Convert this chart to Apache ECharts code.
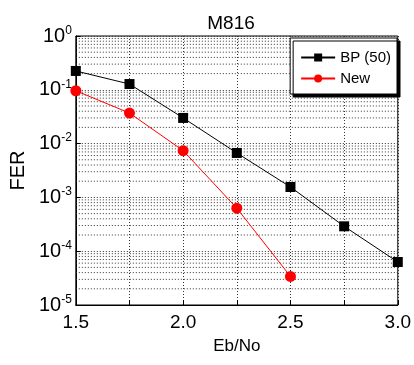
<!DOCTYPE html>
<html><head><meta charset="utf-8">
<script src="https://cdn.jsdelivr.net/npm/echarts@6/dist/echarts.min.js"></script>
<style>html,body{margin:0;padding:0;background:#fff}#c{width:414px;height:365px}</style>
</head><body><div id="c"></div>
<script>
const ebno = [1.5, 1.75, 2.0, 2.25, 2.5, 2.75, 3.0];
const bpFER = [0.224, 0.128, 0.030, 0.0067, 0.00156, 0.00029, 0.000063];
const newEbno = [1.5, 1.75, 2.0, 2.25, 2.5];
const newFER = [0.096, 0.037, 0.0074, 0.00063, 0.000034];
const decades = [-5, -4, -3, -2, -1];
const minorMult = [2, 3, 4, 5, 6, 7, 8, 9];
const xRange = [1.5, 3.0];

const minorGrid = [];
decades.forEach(d => minorMult.forEach(m => {
  const v = m * Math.pow(10, d);
  minorGrid.push([xRange[0], v], [xRange[1], v], [xRange[1], '-']);
}));

const chart = echarts.init(document.getElementById('c'));
const FONT = 'Liberation Sans, Arial, sans-serif';
const gridStyle = {color: '#333', type: [1, 2], width: 1};
chart.setOption({
  animation: false,
  title: {text: 'M816', left: 226, textAlign: 'center', top: 9,
    textStyle: {fontFamily: FONT, fontWeight: 'normal', fontSize: 19, color: '#000'}},
  grid: {left: 75, right: 16, top: 36, bottom: 60, show: true, borderColor: '#000', borderWidth: 1},
  legend: {
    right: 17, top: 38, orient: 'vertical', itemWidth: 34, itemHeight: 10, itemGap: 6,
    padding: [12, 6, 8, 10],
    backgroundColor: '#fff', borderColor: '#000', borderWidth: 1,
    shadowColor: '#000', shadowBlur: 0, shadowOffsetX: 3, shadowOffsetY: 3,
    textStyle: {fontFamily: FONT, fontSize: 15, color: '#000'},
    data: ['BP (50)', 'New']
  },
  xAxis: {
    type: 'value', min: 1.5, max: 3.0, interval: 0.25,
    name: 'Eb/No', nameLocation: 'middle', nameGap: 33,
    nameTextStyle: {fontFamily: FONT, fontSize: 17, color: '#000'},
    axisLine: {show: true, lineStyle: {color: '#000'}},
    axisTick: {inside: true, lineStyle: {color: '#000'}},
    axisLabel: {fontFamily: FONT, fontSize: 19, color: '#000', margin: 8,
      formatter: v => (Math.abs(v * 2 - Math.round(v * 2)) < 1e-6 ? v.toFixed(1) : '')},
    splitLine: {show: true, lineStyle: gridStyle}
  },
  yAxis: {
    type: 'log', logBase: 10, min: 1e-5, max: 1,
    name: 'FER', nameLocation: 'middle', nameGap: 45,
    nameTextStyle: {fontFamily: FONT, fontSize: 20, color: '#000'},
    axisLine: {show: true, lineStyle: {color: '#000'}},
    axisTick: {inside: true, lineStyle: {color: '#000'}},
    axisLabel: {
      color: '#000', margin: 4,
      formatter: v => '{b|10}{s|' + Math.round(Math.log10(v)) + '}',
      rich: {
        b: {fontFamily: FONT, fontSize: 20, color: '#000'},
        s: {fontFamily: FONT, fontSize: 12, color: '#000', padding: [0, 0, 11, 0]}
      }
    },
    splitLine: {show: true, lineStyle: gridStyle}
  },
  series: [
    {
      name: 'minorGrid', type: 'line', data: minorGrid, silent: true, z: 1,
      symbol: 'none', connectNulls: false, lineStyle: gridStyle
    },
    {
      name: 'BP (50)', type: 'line', data: ebno.map((x, i) => [x, bpFER[i]]),
      symbol: 'rect', symbolSize: 10, color: '#000', z: 3,
      lineStyle: {color: '#000', width: 1}, itemStyle: {color: '#000'}
    },
    {
      name: 'New', type: 'line', data: newEbno.map((x, i) => [x, newFER[i]]),
      symbol: 'circle', symbolSize: 11, color: '#f00', z: 3,
      lineStyle: {color: '#f00', width: 1}, itemStyle: {color: '#f00'}
    }
  ]
});
</script></body></html>
